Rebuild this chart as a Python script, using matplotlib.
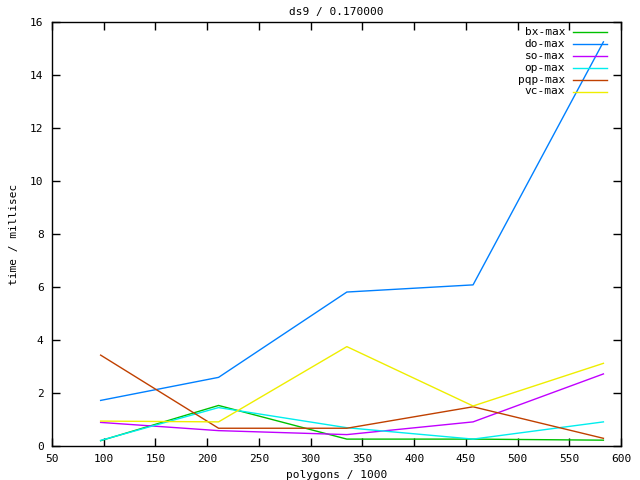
import matplotlib
matplotlib.use("Agg")
import matplotlib.pyplot as plt

polygons = [97, 211, 335, 457, 583]
series_names = ["bx-max", "do-max", "so-max", "op-max", "pqp-max", "vc-max"]
bx_max = [0.20, 1.53, 0.26, 0.26, 0.22]
do_max = [1.72, 2.59, 5.81, 6.08, 15.25]
so_max = [0.89, 0.58, 0.43, 0.91, 2.72]
op_max = [0.21, 1.45, 0.69, 0.26, 0.91]
pqp_max = [3.43, 0.67, 0.67, 1.48, 0.29]
vc_max = [0.94, 0.91, 3.75, 1.51, 3.12]
colors = ["#00c000", "#0080ff", "#c000ff", "#00eeee", "#c04000", "#eeee00"]
x_ticks = list(range(50, 601, 50))
y_ticks = list(range(0, 17, 2))

plt.rcParams['font.family'] = ['DejaVu Sans Mono']
fs = 8

fig = plt.figure(figsize=(6.4, 4.8), dpi=100)
ax = fig.add_axes([52/640, 1-446/480, 569/640, 424/480])
values = [bx_max, do_max, so_max, op_max, pqp_max, vc_max]
for name, vals, c in zip(series_names, values, colors):
    ax.plot(polygons, vals, color=c, lw=1, label=name)

ax.set_xlim(50, 600)
ax.set_ylim(0, 16)
ax.set_xticks(x_ticks)
ax.set_yticks(y_ticks)
ax.tick_params(direction='in', length=6, width=1, top=True, right=True,
               labelsize=fs, pad=6)
for s in ax.spines.values():
    s.set_linewidth(1)
ax.set_title("ds9 / 0.170000", fontsize=fs, pad=5)
ax.set_xlabel("polygons / 1000", fontsize=fs, labelpad=4)
ax.set_ylabel("time / millisec", fontsize=fs, labelpad=8)

# legend (gnuplot style: right-aligned text, sample to the right)
y0 = (446-32)/424
dy = 11.9/424
for i, (name, c) in enumerate(zip(series_names, colors)):
    yy = y0 - i*dy
    ax.text((565-52)/569, yy, name, transform=ax.transAxes, ha='right',
            va='center', fontsize=fs)
    ax.plot([(573-52)/569, (607-52)/569], [yy, yy], transform=ax.transAxes,
            color=c, lw=1, clip_on=False)

fig.savefig("out.png", dpi=100)
